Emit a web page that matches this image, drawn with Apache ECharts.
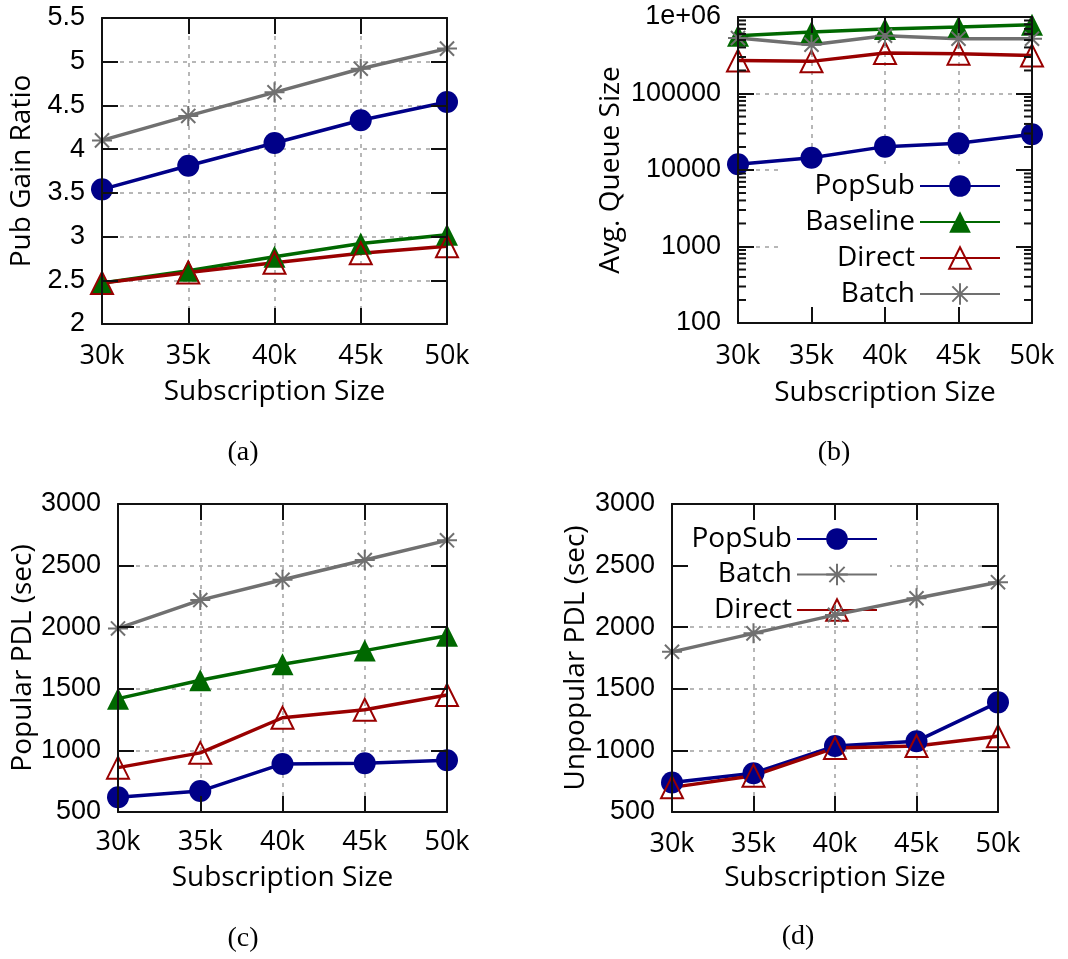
<!DOCTYPE html>
<html>
<head>
<meta charset="utf-8">
<script src="https://cdn.jsdelivr.net/npm/echarts@6/dist/echarts.min.js"></script>
<style>
  html, body { margin: 0; padding: 0; background: #fff; }
  #chart { width: 1068px; height: 959px; }
</style>
</head>
<body>
<div id="chart"></div>
<script>
// Subscription sizes shared by all four panels
const sizes = ['30k', '35k', '40k', '45k', '50k'];

// (a) publisher gain ratio
const gainPopSub   = [3.54, 3.81, 4.07, 4.33, 4.54];
const gainBaseline = [2.47, 2.61, 2.77, 2.92, 3.02];
const gainDirect   = [2.47, 2.59, 2.70, 2.81, 2.89];
const gainBatch    = [4.10, 4.38, 4.65, 4.92, 5.15];

// (b) average queue size (log scale)
const queuePopSub   = [11900, 14500, 20200, 22300, 29300];
const queueBaseline = [570000, 637000, 697000, 740000, 794000];
const queueDirect   = [269000, 263000, 339000, 332000, 313000];
const queueBatch    = [531000, 435000, 570000, 521000, 521000];

// (c) popular PDL in seconds
const popPopSub   = [620, 670, 890, 895, 920];
const popBaseline = [1420, 1570, 1700, 1810, 1930];
const popDirect   = [860, 980, 1265, 1330, 1450];
const popBatch    = [1990, 2220, 2385, 2545, 2705];

// (d) unpopular PDL in seconds
const unpopPopSub = [740, 815, 1035, 1075, 1390];
const unpopBatch  = [1800, 1950, 2100, 2235, 2365];
const unpopDirect = [700, 795, 1020, 1035, 1115];

// minor ticks of the log axis: 2..9 within each decade
const queueMinorTicks = [];
for (let e = 2; e < 6; e++) {
  for (let m = 2; m <= 9; m++) queueMinorTicks.push(m * Math.pow(10, e));
}

const SANS = '"Open Sans", "Noto Sans", sans-serif';
const NUM = '"Liberation Sans", Arial, sans-serif';
const INK = '#111111';
const GRID_LINE = { color: '#a0a0a0', width: 1.5, type: [4, 5] };
const TICK_LEN = 16;
const FRAME = { show: true, lineStyle: { color: INK, width: 2 } };
const TICK = { show: true, inside: true, length: TICK_LEN, lineStyle: { color: INK, width: 2 } };

const styles = {
  PopSub:   { color: '#000088', symbol: 'circle', size: 22, fill: '#000088' },
  Baseline: { color: '#006800', symbol: 'triangle', size: 22, fill: '#006800' },
  Direct:   { color: '#990000', symbol: 'triangle', size: 22, fill: 'rgba(255,255,255,0)' },
  Batch:    { color: '#707070', symbol: 'path://M10,0L10,20M0,10L20,10M2.93,2.93L17.07,17.07M2.93,17.07L17.07,2.93', size: 20, fill: 'rgba(255,255,255,0)' }
};

const panels = [
  { grid: { left: 102, top: 18, width: 345, height: 306 },
    y: { type: 'value', min: 2, max: 5.5, interval: 0.5 },
    yName: 'Pub Gain Ratio', yGap: 66, xLabelMargin: 19, xGap: 54,
    yFormatter: v => String(v),
    series: [['PopSub', gainPopSub], ['Baseline', gainBaseline], ['Direct', gainDirect], ['Batch', gainBatch]] },
  { grid: { left: 738, top: 17, width: 294, height: 306 },
    y: { type: 'log', logBase: 10, min: 100, max: 1000000 },
    yName: 'Avg. Queue Size', yGap: 113, xLabelMargin: 20, xGap: 56,
    yFormatter: v => (v >= 1000000 ? '1e+06' : String(v)),
    series: [['PopSub', queuePopSub], ['Baseline', queueBaseline], ['Direct', queueDirect], ['Batch', queueBatch]] },
  { grid: { left: 118, top: 504, width: 329, height: 308 },
    y: { type: 'value', min: 500, max: 3000, interval: 500 },
    yName: 'Popular PDL (sec)', yGap: 81, xLabelMargin: 17, xGap: 52,
    yFormatter: v => String(v),
    series: [['PopSub', popPopSub], ['Baseline', popBaseline], ['Direct', popDirect], ['Batch', popBatch]] },
  { grid: { left: 672, top: 504, width: 326, height: 308 },
    y: { type: 'value', min: 500, max: 3000, interval: 500 },
    yName: 'Unpopular PDL (sec)', yGap: 82, xLabelMargin: 19, xGap: 52,
    yFormatter: v => String(v),
    series: [['PopSub', unpopPopSub], ['Batch', unpopBatch], ['Direct', unpopDirect]] }
];

const grid = [], xAxis = [], yAxis = [], series = [];

// axes that only draw the frame and the inward ticks, kept above the legend box
function tickX(g, pos) {
  return { gridIndex: g, type: 'category', data: sizes, boundaryGap: false, position: pos, z: 10,
    axisLine: FRAME, axisLabel: { show: false }, splitLine: { show: false }, axisTick: TICK };
}
function tickY(g, p, pos) {
  return Object.assign({ gridIndex: g, position: pos, z: 10,
    axisLine: FRAME, axisLabel: { show: false }, splitLine: { show: false }, axisTick: TICK }, p.y);
}

panels.forEach((p, g) => {
  grid.push(Object.assign({ show: false }, p.grid));
  const ax = xAxis.length, ay = yAxis.length;
  xAxis.push({
    gridIndex: g, type: 'category', data: sizes, boundaryGap: false, position: 'bottom',
    axisLine: { show: false }, axisTick: { show: false },
    axisLabel: { margin: p.xLabelMargin, fontSize: 27, fontFamily: SANS, color: '#000' },
    splitLine: { show: true, lineStyle: GRID_LINE },
    name: 'Subscription Size', nameLocation: 'middle', nameGap: p.xGap,
    nameTextStyle: { fontSize: 28, fontFamily: SANS, color: '#000' }
  }, tickX(g, 'bottom'), tickX(g, 'top'));
  yAxis.push(Object.assign({
    gridIndex: g, position: 'left',
    axisLine: { show: false }, axisTick: { show: false },
    axisLabel: { margin: 17, fontSize: 27, fontFamily: NUM, color: '#000', formatter: p.yFormatter },
    splitLine: { show: true, lineStyle: GRID_LINE },
    name: p.yName, nameLocation: 'middle', nameGap: p.yGap, nameRotate: 90,
    nameTextStyle: { fontSize: 28, fontFamily: SANS, color: '#000' }
  }, p.y), tickY(g, p, 'left'), tickY(g, p, 'right'));

  p.series.forEach(([name, data]) => {
    const s = styles[name];
    series.push({
      type: 'line', name, data, xAxisIndex: ax, yAxisIndex: ay, z: 5,
      symbol: s.symbol, symbolSize: s.size, showSymbol: true, animation: false,
      lineStyle: { color: s.color, width: 3.5 },
      itemStyle: { color: s.fill, borderColor: s.color, borderWidth: s.fill === s.color ? 0 : 2 }
    });
  });
});

// minor ticks on both sides of the log axis: [category index, value, direction]
const lastCat = sizes.length - 1;
series.push({
  type: 'custom', xAxisIndex: 3, yAxisIndex: 3, z: 10, silent: true, animation: false, clip: false,
  data: queueMinorTicks.flatMap(v => [[0, v, 1], [lastCat, v, -1]]),
  encode: { x: 0, y: 1 },
  renderItem(params, api) {
    const pt = api.coord([api.value(0), api.value(1)]);
    const dir = api.value(2);
    return { type: 'line', shape: { x1: pt[0], y1: pt[1], x2: pt[0] + 8 * dir, y2: pt[1] },
      style: { stroke: INK, lineWidth: 2 } };
  }
});

const legendBase = {
  orient: 'vertical', align: 'right', backgroundColor: '#fff', borderWidth: 0,
  itemWidth: 80, itemHeight: 27, selectedMode: false, z: 4,
  textStyle: { fontSize: 28, fontFamily: SANS, color: '#000' }
};

const captions = [
  { text: '(a)', x: 243, y: 453 },
  { text: '(b)', x: 834, y: 453 },
  { text: '(c)', x: 243, y: 939 },
  { text: '(d)', x: 798, y: 937 }
];

const chart = echarts.init(document.getElementById('chart'));
chart.setOption({
  animation: false,
  grid, xAxis, yAxis, series,
  legend: [
    Object.assign({}, legendBase, { data: ['PopSub', 'Baseline', 'Direct', 'Batch'],
      right: 38, top: 164, itemGap: 8, padding: [8, 29, 18, 24] }),
    Object.assign({}, legendBase, { data: ['PopSub', 'Batch', 'Direct'],
      right: 178, top: 506, itemGap: 7.5, padding: [19, 12, 1, 11] })
  ],
  graphic: captions.map(c => ({
    type: 'text', x: c.x, y: c.y, silent: true,
    style: { text: c.text, fontSize: 28, fontFamily: '"Liberation Serif", "DejaVu Serif", serif',
      fill: '#000', align: 'center', verticalAlign: 'middle' }
  }))
});
</script>
</body>
</html>
